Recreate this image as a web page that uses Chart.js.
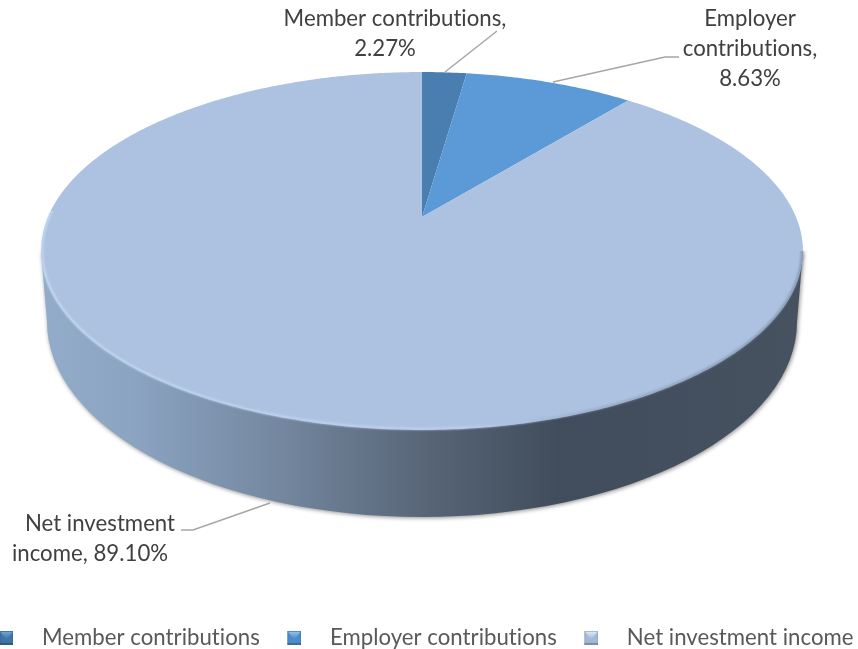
<!DOCTYPE html>
<html><head><meta charset="utf-8">
<style>html,body{margin:0;padding:0;width:858px;height:649px;overflow:hidden;background:#fff}
#c{position:absolute;left:-37px;top:0}</style>
<script src="https://cdn.jsdelivr.net/npm/chart.js@4"></script>
</head><body>
<canvas id="c" width="900" height="659"></canvas>
<script>
const categories = ['Member contributions','Employer contributions','Net investment income'];
const shares = [2.27, 8.63, 89.10];
const sliceColors = ['#4a7eb0','#5b9ad6','#adc2e0'];
const markerColors = [['#3f74a6','#6fa6d8'],['#4d8cc8','#8cc4f0'],['#a4b8d6','#dce8f6']];
const labelLines = [['Member contributions,','2.27%'],['Employer','contributions,','8.63%'],['Net investment','income, 89.10%']];

const OX = 37, FONT = 'Lato', FS = 22.2;
const apex = {x:422+OX, y:217}, top3d = {A:374, B:172.5, k:0.19};
const rim = {cx:422+OX, cy:251, rx:381, ry:179};
const base = {cx:422+OX, cy:322, rx:375, ry:195};

function project(angle){
  const t = angle + Math.PI/2, X = Math.sin(t), Y = Math.cos(t), w = 1 + top3d.k*Y;
  return [apex.x + top3d.A*X/w, apex.y - top3d.B*Y/w];
}
function makeMarker(c){
  const m = document.createElement('canvas'); m.width = 23; m.height = 14;
  const g = m.getContext('2d'), l = 9, s = 14;
  g.fillStyle = c[0]; g.fillRect(l,0,s,s);
  let gr = g.createLinearGradient(0,1,0,8); gr.addColorStop(0,c[1]); gr.addColorStop(1,c[0]);
  g.fillStyle = gr; g.beginPath(); g.moveTo(l+1,1); g.lineTo(l+s-1,1); g.lineTo(l+s/2,9); g.closePath(); g.fill();
  g.fillStyle = 'rgba(0,0,0,.22)'; g.fillRect(l,s-2,s,2);
  g.fillStyle = 'rgba(0,0,0,.10)'; g.fillRect(l,0,1,s); g.fillRect(l+s-1,0,1,s);
  return m;
}
const markers = markerColors.map(makeMarker);

const pie3d = {
  id:'pie3d',
  beforeDraw(chart){ chart.ctx.letterSpacing = '0.02px'; },
  beforeDatasetDraw(chart){
    const ctx = chart.ctx, arcs = chart.getDatasetMeta(0).data;
    ctx.save();
    const wall = new Path2D();
    wall.moveTo(rim.cx-rim.rx, rim.cy);
    wall.lineTo(base.cx-base.rx, base.cy);
    wall.ellipse(base.cx, base.cy, base.rx, base.ry, 0, Math.PI, 0, true);
    wall.lineTo(rim.cx+rim.rx, rim.cy);
    wall.closePath();
    const g = ctx.createLinearGradient(rim.cx-rim.rx,0,rim.cx+rim.rx,0);
    g.addColorStop(0,'#93acca'); g.addColorStop(.12,'#8ba4c2'); g.addColorStop(.32,'#73869e');
    g.addColorStop(.5,'#586678'); g.addColorStop(.68,'#414d5c'); g.addColorStop(1,'#465260');
    ctx.save();
    ctx.shadowColor = 'rgba(0,0,0,.45)'; ctx.shadowBlur = 4; ctx.shadowOffsetX = 1; ctx.shadowOffsetY = 1;
    ctx.fillStyle = g; ctx.fill(wall);
    ctx.restore();
    arcs.forEach(a => {
      ctx.beginPath(); ctx.moveTo(apex.x, apex.y);
      const n = Math.max(8, Math.ceil((a.endAngle-a.startAngle)*90));
      for(let i=0;i<=n;i++){ const p = project(a.startAngle+(a.endAngle-a.startAngle)*i/n); ctx.lineTo(p[0],p[1]); }
      ctx.closePath(); ctx.fillStyle = a.options.backgroundColor; ctx.fill();
    });
    ctx.save();
    ctx.beginPath();
    ctx.rect(0, rim.cy-40, rim.cx, chart.height);
    ctx.rect(rim.cx, rim.cy, chart.width, chart.height);
    ctx.clip();
    ctx.beginPath(); ctx.ellipse(rim.cx, rim.cy, rim.rx-1, rim.ry-1, 0, 0, Math.PI*2);
    const s = ctx.createLinearGradient(rim.cx-rim.rx,0,rim.cx+rim.rx,0);
    s.addColorStop(0,'#cfe3fb'); s.addColorStop(.55,'#c0d8f5'); s.addColorStop(.72,'#8ea2bd'); s.addColorStop(1,'#71849c');
    ctx.strokeStyle = s; ctx.lineWidth = 2; ctx.globalAlpha = .8; ctx.filter = 'blur(.8px)'; ctx.stroke();
    ctx.restore();
    ctx.restore();
    return false;
  },
  afterDatasetsDraw(chart){
    const ctx = chart.ctx;
    ctx.save();
    ctx.strokeStyle = '#a6a6a6'; ctx.lineWidth = 1.5;
    [[[497,31],[445,72]], [[679,57],[665,57],[553,82]], [[181,530],[193,530],[270,503]]].forEach(pts => {
      ctx.beginPath(); pts.forEach((p,i)=> i ? ctx.lineTo(p[0]+OX,p[1]) : ctx.moveTo(p[0]+OX,p[1])); ctx.stroke();
    });
    ctx.fillStyle = '#404040'; ctx.font = FS+'px '+FONT; ctx.textAlign = 'center'; ctx.textBaseline = 'alphabetic';
    const where = [[[395,26],[385,56]], [[750,26],[750,56],[750,86]], [[100,531],[90,561]]];
    labelLines.forEach((lines,i)=> lines.forEach((t,j)=> ctx.fillText(t, where[i][j][0]+OX, where[i][j][1])));
    ctx.restore();
  }
};

new Chart(document.getElementById('c'), {
  type:'pie',
  data:{labels:categories, datasets:[{data:shares, backgroundColor:sliceColors, borderWidth:0}]},
  plugins:[pie3d],
  options:{
    responsive:false, animation:false,
    plugins:{
      tooltip:{enabled:false},
      legend:{position:'bottom', labels:{
        pointStyleWidth:58, boxHeight:14, padding:1, usePointStyle:true,
        font:{family:FONT, size:FS}, color:'#595959',
        generateLabels:()=>categories.map((text,i)=>({text, index:i, pointStyle:markers[i], fillStyle:sliceColors[i],
          strokeStyle:'transparent', lineWidth:0, fontColor:'#595959', hidden:false}))
      }}
    }
  }
});
</script>
</body></html>
